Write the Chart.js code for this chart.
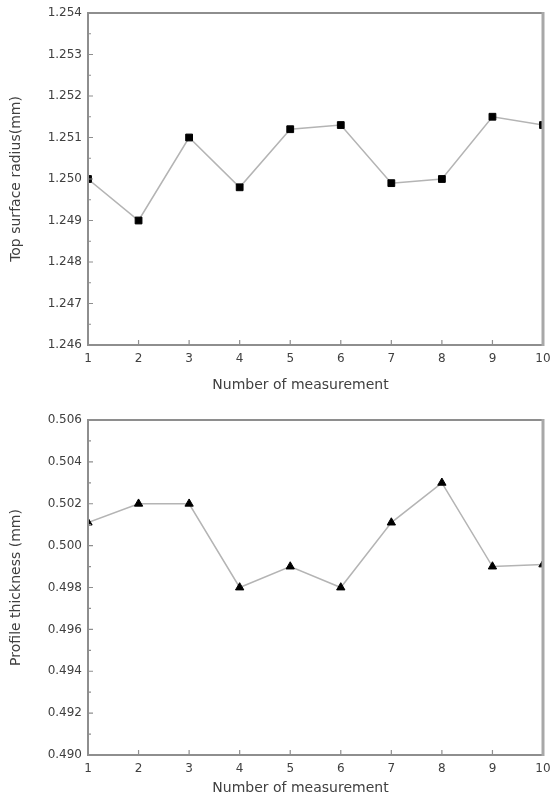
<!DOCTYPE html>
<html>
<head>
<meta charset="utf-8">
<script src="https://cdn.jsdelivr.net/npm/chart.js@4.4.0/dist/chart.umd.min.js"></script>
<style>
  html, body { margin: 0; padding: 0; background: #fff; }
  .panel { position: absolute; left: 0; width: 551px; }
  #top-panel { top: 0; height: 400px; }
  #bottom-panel { top: 400px; height: 404px; }
</style>
</head>
<body>
<div class="panel" id="top-panel"><canvas id="radius-chart"></canvas></div>
<div class="panel" id="bottom-panel"><canvas id="thickness-chart"></canvas></div>
<script>
// Data
const measurements = [1, 2, 3, 4, 5, 6, 7, 8, 9, 10];
const radiusValues = [1.2500, 1.2490, 1.2510, 1.2498, 1.2512, 1.2513, 1.2499, 1.2500, 1.2515, 1.2513];
const thicknessValues = [0.5011, 0.5020, 0.5020, 0.4980, 0.4990, 0.4980, 0.5011, 0.5030, 0.4990, 0.4991];
const radiusTicks = [1.246, 1.247, 1.248, 1.249, 1.250, 1.251, 1.252, 1.253, 1.254];
const thicknessTicks = [0.490, 0.492, 0.494, 0.496, 0.498, 0.500, 0.502, 0.504, 0.506];

const FONT = 'DejaVu Sans';
const TEXT = '#404040';
const AXIS = '#8e8e8e';

// Frame, inward ticks and the x title
const frameAndTicks = {
    id: 'frameAndTicks',
    afterDatasetsDraw(chart, args, opts) {
        const { ctx, chartArea: a, scales: { x, y } } = chart;
        ctx.save();
        ctx.strokeStyle = AXIS;
        ctx.lineWidth = 1.2;
        ctx.beginPath();
        x.ticks.forEach(t => {
            const px = x.getPixelForValue(t.value);
            if (px > a.left + 2 && px < a.right - 2) {
                ctx.moveTo(px, a.bottom);
                ctx.lineTo(px, a.bottom - 5);
            }
        });
        const yt = y.ticks.map(t => t.value);
        yt.forEach((v, i) => {
            const py = y.getPixelForValue(v);
            ctx.moveTo(a.left, py);
            ctx.lineTo(a.left + 5, py);
            if (i < yt.length - 1) {
                const pm = y.getPixelForValue((v + yt[i + 1]) / 2);
                ctx.moveTo(a.left, pm);
                ctx.lineTo(a.left + 3, pm);
            }
        });
        ctx.stroke();

        ctx.lineWidth = 2;
        ctx.beginPath();
        ctx.moveTo(a.right, a.top);
        ctx.lineTo(a.left, a.top);
        ctx.lineTo(a.left, a.bottom);
        ctx.lineTo(a.right, a.bottom);
        ctx.stroke();
        ctx.strokeStyle = '#a8a8a8';
        ctx.lineWidth = 3;
        ctx.beginPath();
        ctx.moveTo(a.right, a.top - 1);
        ctx.lineTo(a.right, a.bottom + 1);
        ctx.stroke();

        ctx.fillStyle = TEXT;
        ctx.font = '14px "' + FONT + '"';
        ctx.textAlign = 'center';
        ctx.textBaseline = 'middle';
        ctx.fillText(opts.text, (a.left + a.right) / 2 + opts.shift, opts.y);
        ctx.restore();
    }
};

function makeChart(id, values, ticks, yTitle, marker, layout) {
    return new Chart(document.getElementById(id), {
        type: 'line',
        data: {
            labels: measurements,
            datasets: [{
                data: values,
                borderColor: '#b4b4b4',
                borderWidth: 1.5,
                pointStyle: marker,
                pointRadius: 4.8,
                pointBackgroundColor: '#000',
                pointBorderColor: '#000',
                pointBorderWidth: 1,
                tension: 0
            }]
        },
        options: {
            responsive: true,
            maintainAspectRatio: false,
            animation: false,
            events: [],
            layout: { padding: { top: layout.top, right: 8, left: 0, bottom: 0 } },
            plugins: {
                legend: { display: false },
                tooltip: { enabled: false },
                frameAndTicks: { text: 'Number of measurement', shift: -15, y: layout.titleY }
            },
            scales: {
                x: {
                    type: 'linear',
                    min: 1,
                    max: 10,
                    grid: { display: false, drawTicks: false },
                    border: { display: false },
                    ticks: {
                        stepSize: 1,
                        padding: 7,
                        maxRotation: 0,
                        color: TEXT,
                        font: { family: FONT, size: 12 }
                    },
                    afterFit: scale => {
                        scale.height = layout.xHeight;
                        scale.paddingLeft = 0;
                        scale.paddingRight = 0;
                    }
                },
                y: {
                    min: ticks[0],
                    max: ticks[ticks.length - 1],
                    grid: { display: false, drawTicks: false },
                    border: { display: false },
                    afterBuildTicks: scale => { scale.ticks = ticks.map(v => ({ value: v })); },
                    ticks: {
                        padding: 6,
                        color: TEXT,
                        font: { family: FONT, size: 12 },
                        callback: v => v.toFixed(3)
                    },
                    title: {
                        display: true,
                        text: yTitle,
                        color: TEXT,
                        font: { family: FONT, size: 14 },
                        padding: { top: 8, bottom: 0 }
                    },
                    afterFit: scale => {
                        scale.width = 88;
                        scale.paddingTop = 0;
                        scale.paddingBottom = 0;
                    }
                }
            }
        },
        plugins: [frameAndTicks]
    });
}

document.addEventListener('DOMContentLoaded', () => {
    makeChart('radius-chart', radiusValues, radiusTicks, 'Top surface radius(mm)', 'rect',
        { top: 13, xHeight: 55, titleY: 385 });
    makeChart('thickness-chart', thicknessValues, thicknessTicks, 'Profile thickness (mm)', 'triangle',
        { top: 20, xHeight: 49, titleY: 388 });
});
</script>
</body>
</html>
